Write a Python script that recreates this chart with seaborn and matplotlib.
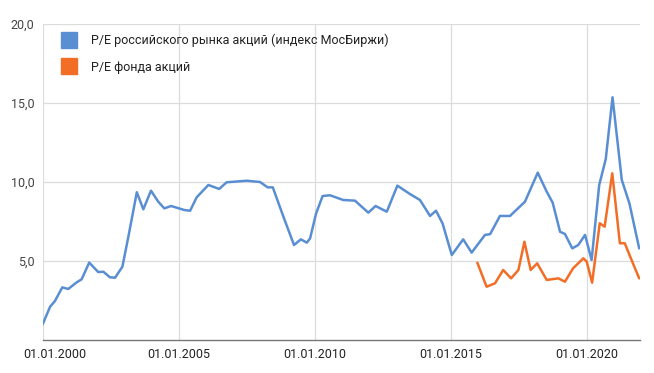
import matplotlib
matplotlib.use("Agg")
import matplotlib.pyplot as plt
import matplotlib.transforms as mtransforms
import seaborn as sns
import pandas as pd
from matplotlib.lines import Line2D

# ---- data (decimal years) ----
market_years = [2000.00, 2000.27, 2000.45, 2000.72, 2000.94, 2001.25, 2001.43, 2001.71,
                2002.04, 2002.23, 2002.47, 2002.66, 2002.93, 2003.15, 2003.46, 2003.70,
                2003.98, 2004.25, 2004.47, 2004.72, 2005.20, 2005.42, 2005.66, 2006.09,
                2006.49, 2006.76, 2007.50, 2007.99, 2008.27, 2008.46, 2008.85, 2009.24,
                2009.49, 2009.71, 2009.83, 2010.05, 2010.29, 2010.56, 2011.05, 2011.48,
                2011.97, 2012.24, 2012.65, 2013.04, 2013.50, 2013.87, 2014.24, 2014.46,
                2014.70, 2015.04, 2015.46, 2015.77, 2016.26, 2016.45, 2016.81, 2017.18,
                2017.73, 2018.20, 2018.53, 2018.75, 2019.02, 2019.20, 2019.47, 2019.69,
                2019.94, 2020.18, 2020.46, 2020.70, 2020.95, 2021.29, 2021.57, 2021.93]
market_pe = [1.0, 2.1, 2.47, 3.33, 3.23, 3.65, 3.84, 4.9,
             4.3, 4.32, 3.97, 3.94, 4.64, 6.54, 9.35, 8.27,
             9.45, 8.75, 8.33, 8.48, 8.23, 8.18, 9.03, 9.81,
             9.56, 9.98, 10.08, 10.0, 9.66, 9.66, 7.8, 6.01,
             6.37, 6.16, 6.43, 8.0, 9.11, 9.16, 8.86, 8.82,
             8.06, 8.48, 8.12, 9.77, 9.24, 8.86, 7.85, 8.18,
             7.38, 5.38, 6.37, 5.53, 6.65, 6.7, 7.85, 7.85,
             8.75, 10.59, 9.39, 8.69, 6.85, 6.71, 5.8, 6.01,
             6.65, 5.06, 9.81, 11.44, 15.36, 10.13, 8.65, 5.8]

fund_years = [2015.98, 2016.32, 2016.63, 2016.93, 2017.22, 2017.49, 2017.71, 2017.94,
              2018.18, 2018.53, 2018.96, 2019.20, 2019.50, 2019.88, 2020.00, 2020.20,
              2020.48, 2020.66, 2020.94, 2021.22, 2021.40, 2021.65, 2021.93]
fund_pe = [4.89, 3.37, 3.59, 4.43, 3.9, 4.43, 6.22, 4.43,
           4.85, 3.8, 3.9, 3.69, 4.54, 5.17, 4.96, 3.63,
           7.39, 7.17, 10.55, 6.12, 6.12, 5.06, 3.9]

series_names = ["P/E российского рынка акций (индекс МосБиржи)", "P/E фонда акций"]
series_colors = ["#5A8ED3", "#F26E26"]

x_ticks = [2000, 2005, 2010, 2015, 2020]
x_tick_labels = ["01.01.2000", "01.01.2005", "01.01.2010", "01.01.2015", "01.01.2020"]
y_ticks = [5, 10, 15, 20]
y_tick_labels = ["5,0", "10,0", "15,0", "20,0"]

# ---- plot ----
sns.set_theme(style="white")
plt.rcParams["font.family"] = ["Roboto", "DejaVu Sans"]

fig = plt.figure(figsize=(6.54, 3.73), dpi=100)
ax = fig.add_axes([0.0653, 0.0885, 0.9133, 0.8472])

df_m = pd.DataFrame({"year": market_years, "pe": market_pe})
df_f = pd.DataFrame({"year": fund_years, "pe": fund_pe})
sns.lineplot(data=df_m, x="year", y="pe", ax=ax, color=series_colors[0], linewidth=1.8,
             solid_joinstyle="round", solid_capstyle="round")
sns.lineplot(data=df_f, x="year", y="pe", ax=ax, color=series_colors[1], linewidth=1.8,
             solid_joinstyle="round", solid_capstyle="round")

ax.set_xlim(2000, 2021.96)
ax.set_ylim(0, 20)
ax.set_xticks(x_ticks)
ax.set_xticklabels(x_tick_labels)
ax.set_yticks(y_ticks)
ax.set_yticklabels(y_tick_labels)
ax.set_xlabel("")
ax.set_ylabel("")
ax.grid(True, color="#DCDCDC", linewidth=0.9)
ax.set_axisbelow(True)
for s in ["top", "right", "left"]:
    ax.spines[s].set_visible(False)
ax.spines["bottom"].set_color("#777777")
ax.spines["bottom"].set_linewidth(1.0)
ax.tick_params(axis="both", length=0, labelsize=9, colors="#222222")
ax.tick_params(axis="y", pad=6, labelcolor="#444444")
ax.tick_params(axis="x", pad=6)

# first date label is pushed right so it sits inside the chart, as in the reference
first = ax.get_xticklabels()[0]
first.set_transform(first.get_transform() +
                    mtransforms.ScaledTranslation(12 / 100, 0, fig.dpi_scale_trans))

handles = [Line2D([0], [0], marker="s", linestyle="none", markersize=12,
                  markerfacecolor=c, markeredgecolor=c) for c in series_colors]
leg = ax.legend(handles, series_names, loc="upper left", bbox_to_anchor=(0.086, 0.91),
                bbox_transform=fig.transFigure, frameon=False, fontsize=9,
                handletextpad=0.75, labelspacing=1.1, borderaxespad=0, borderpad=0)
for t in leg.get_texts():
    t.set_color("#222222")

fig.savefig("out.png", dpi=100, facecolor="white")
